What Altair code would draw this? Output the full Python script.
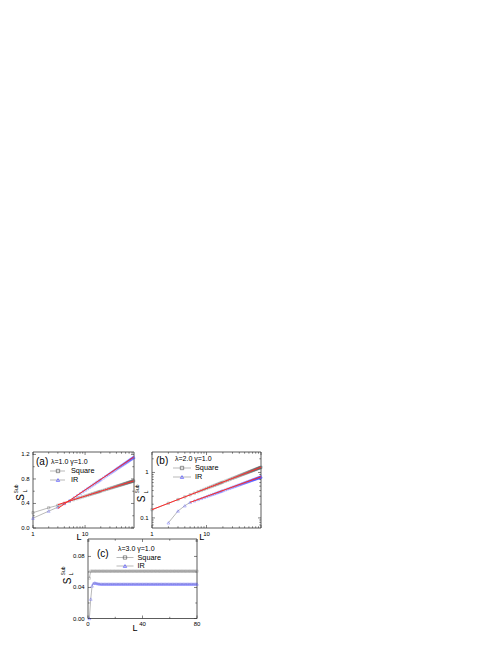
import altair as alt
import pandas as pd

# ---------------- data ----------------
L_A = [1, 2, 3, 4, 5, 6, 7, 8, 9, 10, 11, 12, 13, 14, 15, 16, 17, 18, 19, 20,
       22, 24, 26, 28, 30, 32, 34, 36, 38, 40, 42, 44, 46, 48, 50, 52, 54, 56,
       58, 60, 62, 64, 66, 68, 70, 72, 74, 76, 78, 80, 82, 84, 86]
SQ_A = [0.250, 0.330, 0.370, 0.405, 0.435, 0.461, 0.479, 0.494, 0.508, 0.520,
        0.531, 0.541, 0.550, 0.559, 0.567, 0.574, 0.581, 0.588, 0.594, 0.600,
        0.611, 0.621, 0.630, 0.639, 0.647, 0.654, 0.661, 0.668, 0.674, 0.680,
        0.686, 0.691, 0.696, 0.701, 0.706, 0.710, 0.715, 0.719, 0.723, 0.727,
        0.731, 0.734, 0.738, 0.742, 0.745, 0.748, 0.751, 0.754, 0.757, 0.760,
        0.763, 0.766, 0.768]
IR_A = [0.160, 0.275, 0.340, 0.400, 0.448, 0.492, 0.531, 0.564, 0.594, 0.620,
        0.644, 0.666, 0.686, 0.704, 0.721, 0.738, 0.752, 0.767, 0.781, 0.793,
        0.817, 0.839, 0.859, 0.877, 0.895, 0.911, 0.926, 0.940, 0.954, 0.967,
        0.979, 0.990, 1.002, 1.012, 1.023, 1.032, 1.042, 1.051, 1.060, 1.068,
        1.076, 1.084, 1.092, 1.100, 1.107, 1.114, 1.121, 1.127, 1.134, 1.140,
        1.147, 1.152, 1.158]
FIT_A_L = [3, 86]
FIT_A_SQ = [0.381, 0.768]
FIT_A_IR = [0.319, 1.158]

L_B = [1, 2, 3, 4, 5, 6, 7, 8, 9, 10, 11, 12, 13, 14, 15, 16, 17, 18, 19, 20,
       22, 24, 26, 28, 30, 32, 34, 36, 38, 40, 42, 44, 46, 48, 50, 52, 54, 56,
       58, 60, 62, 64, 66, 68, 70, 72, 74, 76, 78, 80, 82, 84, 86, 88, 90, 92,
       94, 96, 98, 100]
SQ_B = [0.152, 0.210, 0.254, 0.290, 0.322, 0.351, 0.377, 0.401, 0.424, 0.445,
        0.465, 0.484, 0.502, 0.520, 0.537, 0.553, 0.569, 0.585, 0.600, 0.614,
        0.641, 0.668, 0.693, 0.718, 0.741, 0.764, 0.785, 0.807, 0.828, 0.849,
        0.869, 0.887, 0.906, 0.923, 0.942, 0.959, 0.975, 0.993, 1.009, 1.026,
        1.040, 1.057, 1.072, 1.086, 1.102, 1.114, 1.130, 1.143, 1.159, 1.172,
        1.186, 1.199, 1.211, 1.225, 1.239, 1.250, 1.262, 1.276, 1.288, 1.300]
IR_B = [0.078, 0.142, 0.185, 0.220, 0.238, 0.255, 0.270, 0.284, 0.297,
        0.310, 0.321, 0.333, 0.344, 0.354, 0.365, 0.374, 0.384, 0.393, 0.402,
        0.418, 0.435, 0.450, 0.465, 0.479, 0.492, 0.505, 0.518, 0.531, 0.542,
        0.553, 0.565, 0.577, 0.587, 0.597, 0.608, 0.618, 0.628, 0.637, 0.647,
        0.656, 0.665, 0.675, 0.684, 0.692, 0.700, 0.708, 0.716, 0.724, 0.733,
        0.741, 0.748, 0.755, 0.764, 0.771, 0.778, 0.785, 0.792, 0.800, 0.807]
FIT_B_SQ_L = [1, 100]
FIT_B_SQ = [0.152, 1.300]
FIT_B_IR_L = [5, 100]
FIT_B_IR = [0.220, 0.807]

L_C = [1, 2, 3, 4, 5, 6, 7, 8, 9, 10, 11, 12, 13, 14, 15, 16, 17, 18, 19, 20,
       21, 22, 23, 24, 25, 26, 27, 28, 29, 30, 31, 32, 33, 34, 35, 36, 37, 38,
       39, 40, 41, 42, 43, 44, 45, 46, 47, 48, 49, 50, 51, 52, 53, 54, 55, 56,
       57, 58, 59, 60, 61, 62, 63, 64, 65, 66, 67, 68, 69, 70, 71, 72, 73, 74,
       75, 76, 77, 78, 79, 80]
SQ_C = [0.052, 0.061, 0.061, 0.061, 0.061, 0.061, 0.061, 0.061, 0.061, 0.061,
        0.061, 0.061, 0.061, 0.061, 0.061, 0.061, 0.061, 0.061, 0.061, 0.061,
        0.061, 0.061, 0.061, 0.061, 0.061, 0.061, 0.061, 0.061, 0.061, 0.061,
        0.061, 0.061, 0.061, 0.061, 0.061, 0.061, 0.061, 0.061, 0.061, 0.061,
        0.061, 0.061, 0.061, 0.061, 0.061, 0.061, 0.061, 0.061, 0.061, 0.061,
        0.061, 0.061, 0.061, 0.061, 0.061, 0.061, 0.061, 0.061, 0.061, 0.061,
        0.061, 0.061, 0.061, 0.061, 0.061, 0.061, 0.061, 0.061, 0.061, 0.061,
        0.061, 0.061, 0.061, 0.061, 0.061, 0.061, 0.061, 0.061, 0.061, 0.061]
IR_C = [0.000, 0.025, 0.042, 0.0455, 0.046, 0.0455, 0.045, 0.0448, 0.0445, 0.0445,
        0.0445, 0.0445, 0.0445, 0.0445, 0.0445, 0.0445, 0.0445, 0.0445, 0.0445, 0.0445,
        0.0445, 0.0445, 0.0445, 0.0445, 0.0445, 0.0445, 0.0445, 0.0445, 0.0445, 0.0445,
        0.0445, 0.0445, 0.0445, 0.0445, 0.0445, 0.0445, 0.0445, 0.0445, 0.0445, 0.0445,
        0.0445, 0.0445, 0.0445, 0.0445, 0.0445, 0.0445, 0.0445, 0.0445, 0.0445, 0.0445,
        0.0445, 0.0445, 0.0445, 0.0445, 0.0445, 0.0445, 0.0445, 0.0445, 0.0445, 0.0445,
        0.0445, 0.0445, 0.0445, 0.0445, 0.0445, 0.0445, 0.0445, 0.0445, 0.0445, 0.0445,
        0.0445, 0.0445, 0.0445, 0.0445, 0.0445, 0.0445, 0.0445, 0.0445, 0.0445, 0.0445]

SERIES = ["Square", "IR"]
PANEL_LABELS = ["(a)", "(b)", "(c)"]
PARAMS = ["λ=1.0 γ=1.0", "λ=2.0 γ=1.0", "λ=3.0 γ=1.0"]

X_DOM = {"a": [1, 87], "b": [1, 100], "c": [0, 80]}
Y_DOM = {"a": [0, 1.24], "b": [0.06, 2.82], "c": [0, 0.1025]}
X_MAJ = {"a": [1, 10], "b": [1, 10, 100], "c": [0, 40, 80]}
X_MIN = {"a": [2, 3, 4, 5, 6, 7, 8, 9, 20, 30, 40, 50, 60, 70, 80],
         "b": [2, 3, 4, 5, 6, 7, 8, 9, 20, 30, 40, 50, 60, 70, 80, 90],
         "c": [20, 60]}
Y_MAJ = {"a": [0.0, 0.4, 0.8, 1.2], "b": [0.1, 1], "c": [0.0, 0.04, 0.08]}
Y_MIN = {"a": [0.2, 0.6, 1.0],
         "b": [0.07, 0.08, 0.09, 0.2, 0.3, 0.4, 0.5, 0.6, 0.7, 0.8, 0.9, 2],
         "c": [0.02, 0.06, 0.1]}
# tick labels
X_LAB_V = {"a": [1, 10], "b": [1, 10], "c": [0, 40, 80]}
X_LAB_T = {"a": ["1", "10"], "b": ["1", "10"], "c": ["0", "40", "80"]}
Y_LAB_V = {"a": [0.0, 0.4, 0.8, 1.2], "b": [0.1, 1], "c": [0.0, 0.04, 0.08]}
Y_LAB_T = {"a": ["0.0", "0.4", "0.8", "1.2"], "b": ["0.1", "1"], "c": ["0.00", "0.04", "0.08"]}
X_TYPE = {"a": "log", "b": "log", "c": "linear"}
Y_TYPE = {"a": "linear", "b": "log", "c": "linear"}

# ---------------- layout (chart pixel space) ----------------
W, H = 482, 629
GEOM = {"a": dict(x0=25, x1=126, yb=520, yt=444),
        "b": dict(x0=144, x1=253, yb=520, yt=444),
        "c": dict(x0=80, x1=189, yb=610.5, yt=531)}
DECO = {
    "a": dict(lab=(28, 454), par=(43, 453.5), row1=463, row2=472, lx=(42, 57), mx=50, tx=63,
              Lt=(71, 529), S=(13, 489.5), sup=(7.5, 481), sub=(16.5, 483)),
    "b": dict(lab=(148, 453), par=(167, 451), row1=460, row2=469, lx=(165, 183), mx=174, tx=187,
              Lt=(193.7, 529), S=(133.5, 491), sup=(128.5, 481), sub=(137.5, 484)),
    "c": dict(lab=(89, 546), par=(110, 541), row1=549.5, row2=558, lx=(108.5, 125.5), mx=117, tx=129.5,
              Lt=(127, 619.6), S=(59.5, 573), sup=(54.5, 563), sub=(63, 566)),
}
SQ_COLOR = {"a": "#555555", "b": "#555555", "c": "#7a7a7a"}

FONT = "Liberation Sans"
FRAME = "#333333"
GRAY = "#8a8a8a"
DARK = "#4a4a4a"
BLUE = "#3a3aff"
RED = "#ff2a2a"

ONE = pd.DataFrame({"d": [0]})


def panel(key, idx, sq_df, ir_df, fit_df):
    g = GEOM[key]
    xsc = alt.Scale(type=X_TYPE[key], domain=X_DOM[key], range=[g["x0"], g["x1"]], nice=False, zero=False)
    ysc = alt.Scale(type=Y_TYPE[key], domain=Y_DOM[key], range=[g["yb"], g["yt"]], nice=False, zero=False)
    d = DECO[key]

    frame_df = pd.DataFrame({"a": [X_DOM[key][0]], "b": [X_DOM[key][1]],
                             "c": [Y_DOM[key][0]], "e": [Y_DOM[key][1]]})
    frame = alt.Chart(frame_df).mark_rect(fillOpacity=0, stroke=FRAME, strokeWidth=0.8).encode(
        x=alt.X("a:Q", scale=xsc, axis=None), x2="b:Q",
        y=alt.Y("c:Q", scale=ysc, axis=None), y2="e:Q",
    )
    layers = [frame]

    # inward ticks on all four sides
    for vals, ln in ((X_MAJ[key], 3), (X_MIN[key], 1.7)):
        tdf = pd.DataFrame({"v": vals})
        for ya, yb2 in ((g["yb"], g["yb"] - ln), (g["yt"], g["yt"] + ln)):
            layers.append(alt.Chart(tdf).mark_rule(color=FRAME, strokeWidth=0.6).encode(
                x=alt.X("v:Q", scale=xsc, axis=None), y=alt.value(ya), y2=alt.value(yb2)))
    for vals, ln in ((Y_MAJ[key], 3), (Y_MIN[key], 1.7)):
        tdf = pd.DataFrame({"v": vals})
        for xa, xb in ((g["x0"], g["x0"] + ln), (g["x1"], g["x1"] - ln)):
            layers.append(alt.Chart(tdf).mark_rule(color=FRAME, strokeWidth=0.6).encode(
                y=alt.Y("v:Q", scale=ysc, axis=None), x=alt.value(xa), x2=alt.value(xb)))

    # tick labels
    xl = pd.DataFrame({"v": X_LAB_V[key], "t": X_LAB_T[key]})
    layers.append(alt.Chart(xl).mark_text(align="center", baseline="middle", font=FONT, fontSize=6,
                                          color="black").encode(
        x=alt.X("v:Q", scale=xsc, axis=None), y=alt.value(g["yb"] + 5.5), text="t:N"))
    yl = pd.DataFrame({"v": Y_LAB_V[key], "t": Y_LAB_T[key]})
    layers.append(alt.Chart(yl).mark_text(align="right", baseline="middle", font=FONT, fontSize=6,
                                          color="black").encode(
        y=alt.Y("v:Q", scale=ysc, axis=None), x=alt.value(g["x0"] - 3.3), text="t:N"))

    enc = dict(x=alt.X("L:Q", scale=xsc, axis=None), y=alt.Y("S:Q", scale=ysc, axis=None))
    layers.append(alt.Chart(sq_df).mark_line(color=GRAY, strokeWidth=0.6).encode(**enc))
    layers.append(alt.Chart(ir_df).mark_line(color=GRAY, strokeWidth=0.6).encode(**enc))
    layers.append(alt.Chart(sq_df).mark_point(shape="square", filled=False, size=5,
                                              color=SQ_COLOR[key], strokeWidth=0.45).encode(**enc))
    layers.append(alt.Chart(ir_df).mark_point(shape="triangle-up", filled=False, size=8,
                                              color=BLUE, strokeWidth=0.45).encode(**enc))
    if fit_df is not None:
        layers.append(alt.Chart(fit_df).mark_line(color=RED, strokeWidth=1.0).encode(
            detail="s:N", **enc))

    # in-panel legend and labels
    layers.append(alt.Chart(ONE).mark_text(align="left", baseline="middle", font=FONT, fontSize=10).encode(
        x=alt.value(d["lab"][0]), y=alt.value(d["lab"][1]), text=alt.value(PANEL_LABELS[idx])))
    layers.append(alt.Chart(ONE).mark_text(align="left", baseline="middle", font=FONT, fontSize=7).encode(
        x=alt.value(d["par"][0]), y=alt.value(d["par"][1]), text=alt.value(PARAMS[idx])))
    for row, name, shape, col in ((d["row1"], SERIES[0], "square", DARK), (d["row2"], SERIES[1], "triangle-up", BLUE)):
        layers.append(alt.Chart(ONE).mark_rule(color=GRAY, strokeWidth=0.6).encode(
            x=alt.value(d["lx"][0]), x2=alt.value(d["lx"][1]), y=alt.value(row)))
        layers.append(alt.Chart(ONE).mark_point(shape=shape, filled=False, size=11, color=col,
                                                strokeWidth=0.6, opacity=1).encode(
            x=alt.value(d["mx"]), y=alt.value(row)))
        layers.append(alt.Chart(ONE).mark_text(align="left", baseline="middle", font=FONT, fontSize=7.3).encode(
            x=alt.value(d["tx"]), y=alt.value(row), text=alt.value(name)))

    # axis titles
    layers.append(alt.Chart(ONE).mark_text(align="center", baseline="middle", font=FONT, fontSize=9).encode(
        x=alt.value(d["Lt"][0]), y=alt.value(d["Lt"][1]), text=alt.value("L")))
    layers.append(alt.Chart(ONE).mark_text(align="center", baseline="middle", font=FONT, fontSize=10, angle=270).encode(
        x=alt.value(d["S"][0]), y=alt.value(d["S"][1]), text=alt.value("S")))
    layers.append(alt.Chart(ONE).mark_text(align="center", baseline="middle", font=FONT, fontSize=5, angle=270).encode(
        x=alt.value(d["sup"][0]), y=alt.value(d["sup"][1]), text=alt.value("Sub")))
    layers.append(alt.Chart(ONE).mark_text(align="center", baseline="middle", font=FONT, fontSize=5.5, angle=270).encode(
        x=alt.value(d["sub"][0]), y=alt.value(d["sub"][1]), text=alt.value("L")))
    return alt.layer(*layers)


sqA = pd.DataFrame({"L": L_A, "S": SQ_A})
irA = pd.DataFrame({"L": L_A, "S": IR_A})
fitA = pd.DataFrame({"L": FIT_A_L + FIT_A_L, "S": FIT_A_SQ + FIT_A_IR,
                     "s": [SERIES[0]] * 2 + [SERIES[1]] * 2})
sqB = pd.DataFrame({"L": L_B, "S": SQ_B})
irB = pd.DataFrame({"L": L_B[1:], "S": IR_B})
fitB = pd.DataFrame({"L": FIT_B_SQ_L + FIT_B_IR_L, "S": FIT_B_SQ + FIT_B_IR,
                     "s": [SERIES[0]] * 2 + [SERIES[1]] * 2})
sqC = pd.DataFrame({"L": L_C, "S": SQ_C})
irC = pd.DataFrame({"L": L_C, "S": IR_C})

pA = panel("a", 0, sqA, irA, fitA)
pB = panel("b", 1, sqB, irB, fitB)
pC = panel("c", 2, sqC, irC, None)

chart = alt.layer(pA, pB, pC).resolve_scale(x="independent", y="independent").properties(
    width=W, height=H, autosize=alt.AutoSizeParams(type="none"), padding=0,
    background="white",
).configure_view(stroke=None)

chart.save("out.html", embed_options={"renderer": "svg", "actions": False})
